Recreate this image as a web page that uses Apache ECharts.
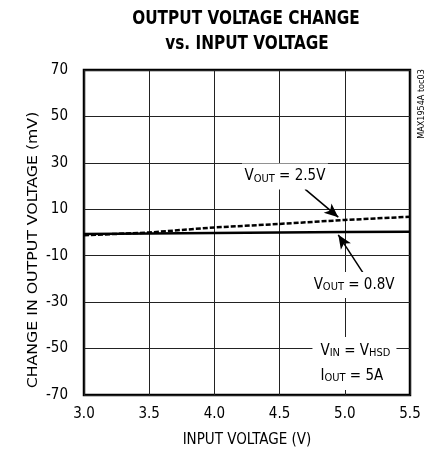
<!DOCTYPE html>
<html><head><meta charset="utf-8">
<script src="https://cdn.jsdelivr.net/npm/echarts@6/dist/echarts.min.js"></script>
<style>html,body{margin:0;padding:0;background:#fff}#c{width:432px;height:458px}</style>
</head><body><div id="c"></div>
<script>
var inputVoltage = [3.0, 3.5, 4.0, 4.5, 5.0, 5.5];
var vout08 = [-0.6, -0.4, -0.2, 0.0, 0.2, 0.3];
var vout25 = [-1.2, 0.0, 2.2, 3.7, 5.4, 6.8];
var yTicks = [-70, -50, -30, -10, 10, 30, 50, 70];
var xTicks = [3.0, 3.5, 4.0, 4.5, 5.0, 5.5];

var FONT = '"Liberation Sans Narrow","DejaVu Sans Condensed","Roboto Condensed",sans-serif';
var chart = echarts.init(document.getElementById('c'), null, {renderer: 'canvas'});

function pairs(xs, ys){ return xs.map(function(x,i){ return [x, ys[i]]; }); }

var rich = {
  v: {fontFamily: FONT, fontSize: 15, color: '#000'},
  s: {fontFamily: FONT, fontSize: 11, color: '#000', padding: [5, 0, 0, 0]}
};

chart.setOption({
  animation: false,
  grid: {left: 84, right: 22, top: 70, bottom: 63, show: true, borderColor: '#000', borderWidth: 2.5, backgroundColor: 'transparent'},
  xAxis: {
    type: 'value', min: 3.0, max: 5.5, interval: 0.5,
    axisLine: {show: false}, axisTick: {show: false},
    splitLine: {show: true, lineStyle: {color: '#222', width: 1}},
    axisLabel: {margin: 12, fontFamily: FONT, fontSize: 15, color: '#000', formatter: function(v){ return v.toFixed(1); }},
    name: 'INPUT VOLTAGE (V)', nameLocation: 'middle', nameGap: 38,
    nameTextStyle: {fontFamily: FONT, fontSize: 15, color: '#000'}
  },
  yAxis: {
    type: 'value', min: -70, max: 70,
    axisLine: {show: false},
    axisTick: {show: false, customValues: yTicks},
    splitLine: {show: true, lineStyle: {color: '#222', width: 1}},
    axisLabel: {customValues: yTicks, margin: 16, fontFamily: FONT, fontSize: 15, color: '#000'}
  },
  series: [
    {type: 'line', data: pairs(inputVoltage, vout08), showSymbol: false, symbol: 'none',
     lineStyle: {color: '#000', width: 2.5, type: 'solid'}, z: 3},
    {type: 'line', data: pairs(inputVoltage, vout25), showSymbol: false, symbol: 'none',
     lineStyle: {color: '#000', width: 2.5, type: [5, 2]}, z: 4,
     markLine: {silent: true, symbol: ['none', 'arrow'], symbolSize: [9, 14],
       lineStyle: {color: '#000', width: 1.5, type: 'solid'}, label: {show: false},
       data: [
         [{coord: [4.695, 18.7]}, {coord: [4.95, 6.6]}],
         [{coord: [5.14, -17.4]}, {coord: [4.95, -1.0]}]
       ]}}
  ]
});

function px(x, y){ return chart.convertToPixel({gridIndex: 0}, [x, y]); }
var p1 = px(4.541, 24.1);
var p2 = px(5.071, -22.6);
var p3 = px(5.074, -56.2);

chart.setOption({
  graphic: [
    {type: 'text', x: 246, y: 19, scaleY: 1.18, z: 11,
     style: {text: 'OUTPUT VOLTAGE CHANGE', fontFamily: FONT, fontWeight: 'bold', fontSize: 17, fill: '#000', align: 'center', verticalAlign: 'middle'}},
    {type: 'text', x: 247, y: 44, scaleY: 1.18, z: 11,
     style: {text: 'vs. INPUT VOLTAGE', fontFamily: FONT, fontWeight: 'bold', fontSize: 17, fill: '#000', align: 'center', verticalAlign: 'middle'}},
    {type: 'rect', shape: {x: p1[0]-43, y: p1[1]-13, width: 86, height: 26}, style: {fill: '#fff'}, z: 10},
    {type: 'text', x: p1[0], y: p1[1], z: 11, style: {text: '{v|V}{s|OUT}{v| = 2.5V}', rich: rich, align: 'center', verticalAlign: 'middle'}},
    {type: 'rect', shape: {x: p2[0]-42, y: p2[1]-13, width: 84, height: 26}, style: {fill: '#fff'}, z: 10},
    {type: 'text', x: p2[0], y: p2[1], z: 11, style: {text: '{v|V}{s|OUT}{v| = 0.8V}', rich: rich, align: 'center', verticalAlign: 'middle'}},
    {type: 'rect', shape: {x: p3[0]-42, y: p3[1]-26, width: 84, height: 53}, style: {fill: '#fff'}, z: 10},
    {type: 'text', x: p3[0]-34, y: p3[1]-12, z: 11, style: {text: '{v|V}{s|IN}{v| = V}{s|HSD}', rich: rich, align: 'left', verticalAlign: 'middle'}},
    {type: 'text', x: p3[0]-34, y: p3[1]+13, z: 11, style: {text: '{v|I}{s|OUT}{v| = 5A}', rich: rich, align: 'left', verticalAlign: 'middle'}},
    {type: 'text', x: 33, y: 250, rotation: Math.PI/2, scaleX: 1.25, z: 11,
     style: {text: 'CHANGE IN OUTPUT VOLTAGE (mV)', fontFamily: FONT, fontSize: 14, fill: '#000', align: 'center', verticalAlign: 'middle'}},
    {type: 'text', x: 422, y: 104, rotation: Math.PI/2, z: 11,
     style: {text: 'MAX1954A toc03', fontFamily: FONT, fontSize: 9, fill: '#000', align: 'center', verticalAlign: 'middle'}}
  ]
});
</script></body></html>
